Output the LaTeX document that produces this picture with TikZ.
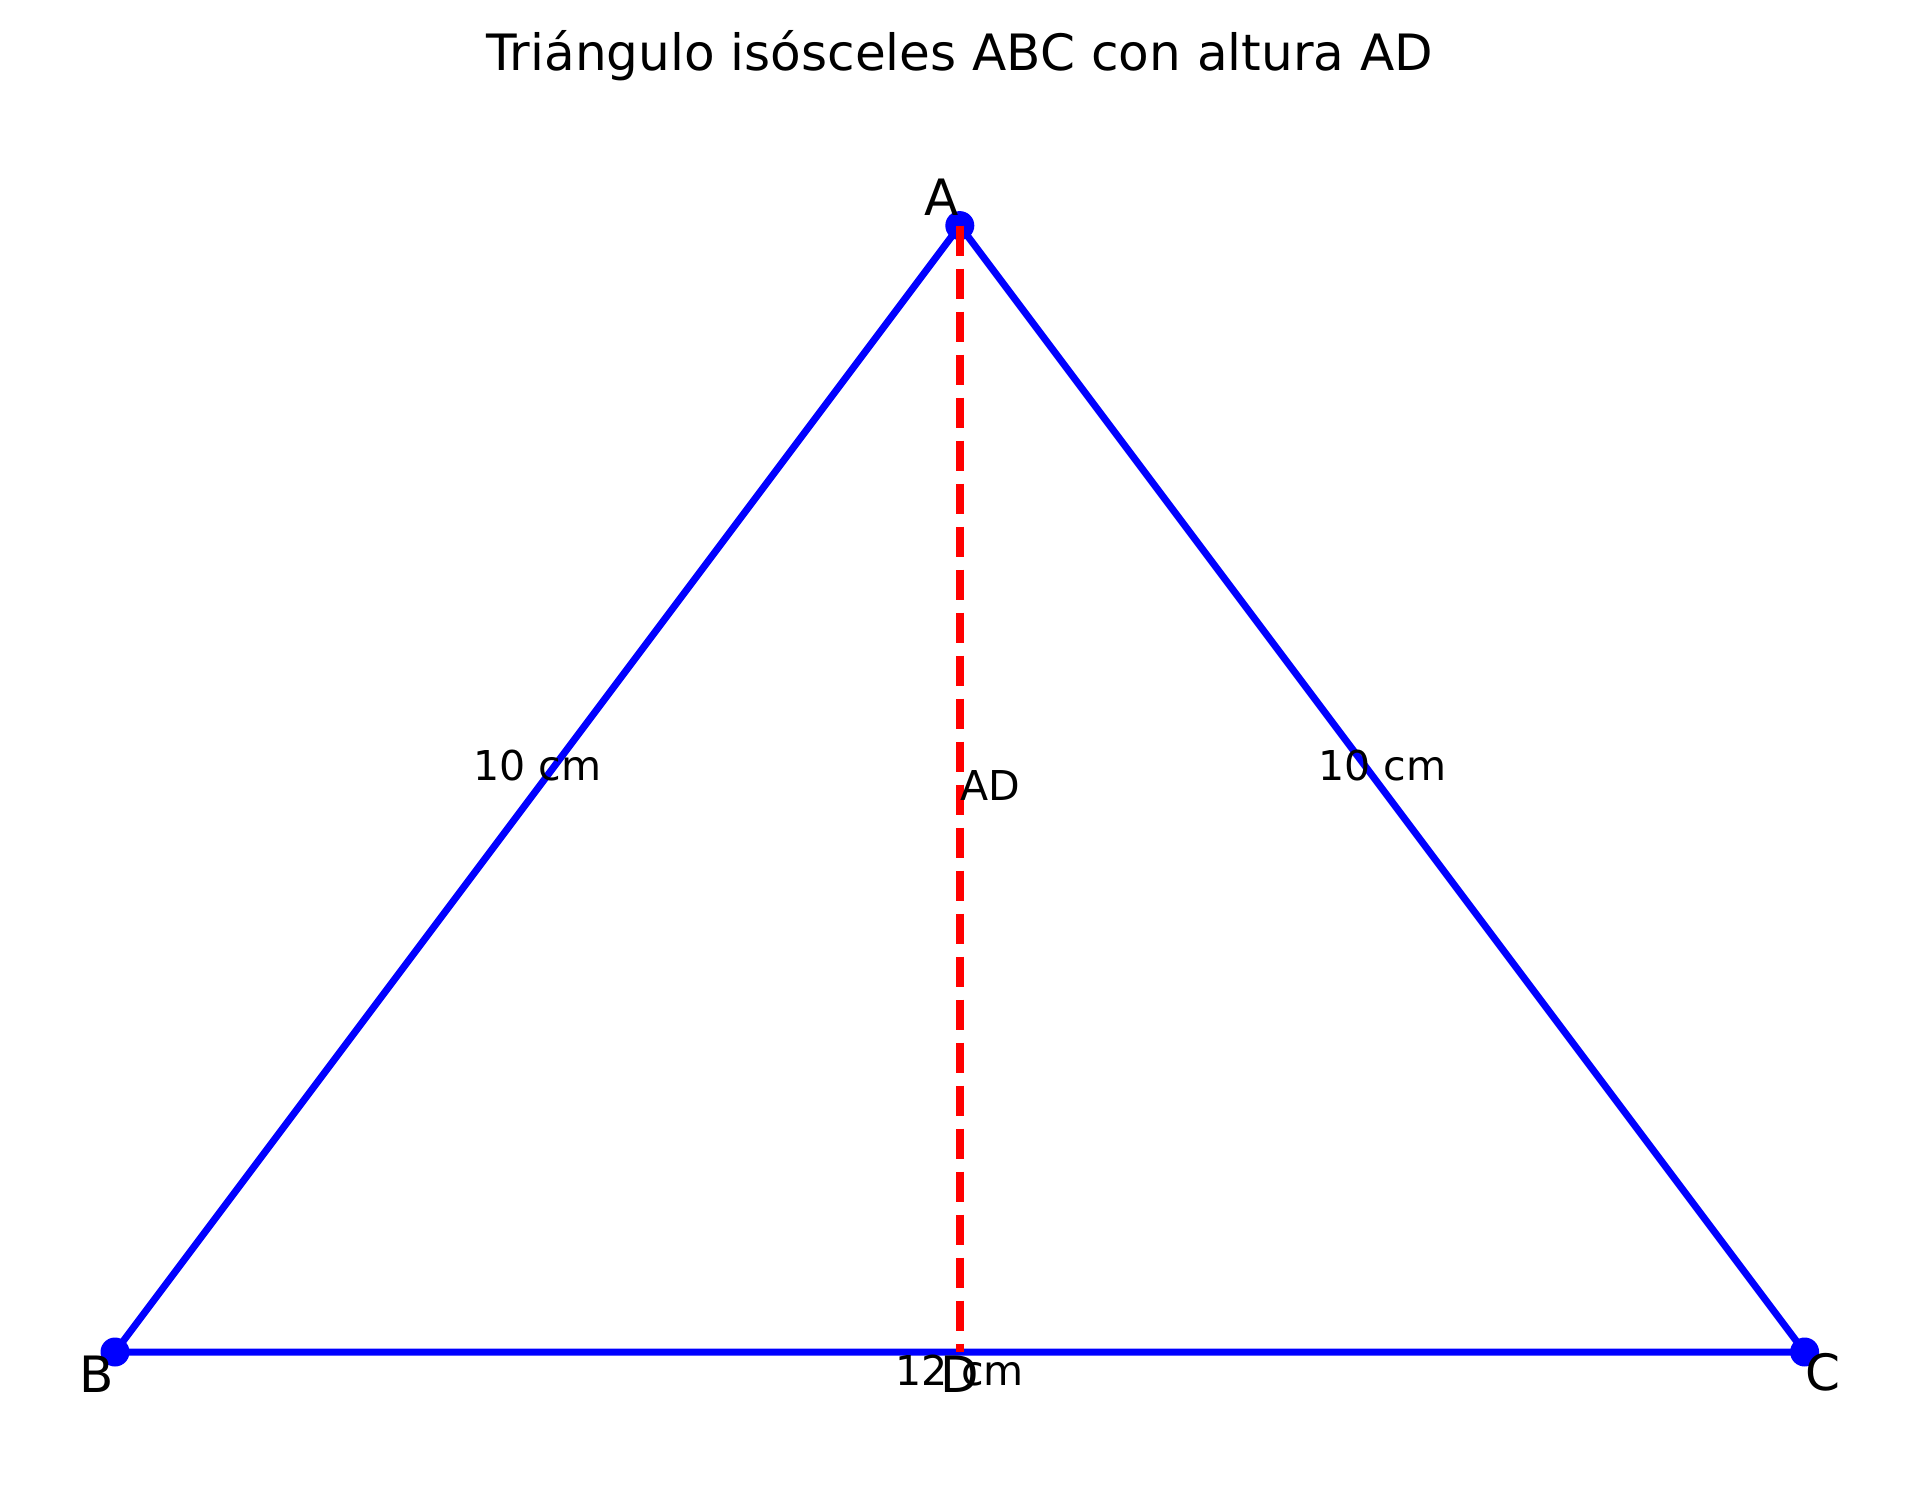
\documentclass[tikz,border=0pt]{standalone}
\usepackage{fontspec}
\setmainfont{DejaVu Sans}
\begin{document}
\begin{tikzpicture}[x=1.408cm, y=1.408cm,
    side/.style={draw=sideColour, line width=0.07cm, line join=round},
    altitude/.style={draw=heightColour, line width=0.08cm, dash pattern=on 0.30cm off 0.13cm},
    vertex/.style={fill=sideColour},
    bigtext/.style={font=\fontsize{14.25pt}{17pt}\selectfont, inner sep=0pt},
    smalltext/.style={font=\fontsize{11.7pt}{14pt}\selectfont, inner sep=0pt}]
    \definecolor{sideColour}{HTML}{0000FF}
    \definecolor{heightColour}{HTML}{FF0000}

    \useasboundingbox (-0.8168,-1.1293) rectangle (12.8125,9.6023);

    % Triangle ABC: vertices A(6,8), B(0,0), C(12,0), foot D(6,0)
    \coordinate (A) at (6,8);
    \coordinate (B) at (0,0);
    \coordinate (C) at (12,0);
    \coordinate (D) at (6,0);

    % Draw sides and vertices
    \draw[side] (A) -- (B) -- (C) -- cycle;
    \foreach \v in {A,B,C}
        \fill[vertex] (\v) circle (0.145cm);

    % Draw altitude AD
    \draw[altitude] (A) -- (D);

    % Label vertices
    \node[bigtext, anchor=base east, yshift=0.10cm] (labelA) at (A) {A};
    \node[bigtext, anchor=north east, yshift=-0.03cm] (labelB) at (B) {B};
    \node[bigtext, anchor=north west, yshift=-0.01cm] (labelC) at (C) {C};
    \node[bigtext, anchor=north, yshift=-0.03cm] (labelD) at (D) {D};

    % Label sides and altitude
    \node[smalltext, anchor=base] (sideAB) at (3,4.0625) {10 cm};
    \node[smalltext, anchor=base] (sideAC) at (9,4.0625) {10 cm};
    \node[smalltext, anchor=north, yshift=-0.02cm] (sideBC) at (D) {12 cm};
    \node[smalltext, anchor=base west] (heightAD) at (6,3.92) {AD};

    % Title
    \node[bigtext, anchor=base] (title) at (6,9.098) {Triángulo isósceles ABC con altura AD};

\end{tikzpicture}
\end{document}
